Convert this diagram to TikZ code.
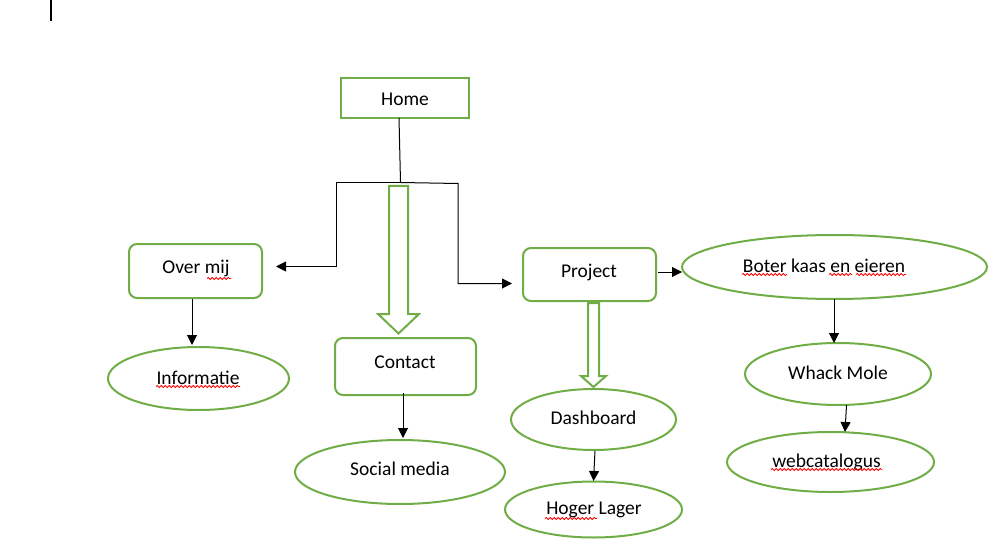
\documentclass[tikz,border=0pt]{standalone}
\usepackage{fontspec}
\setmainfont{Carlito}
\usetikzlibrary{arrows.meta,decorations.pathmorphing}
\definecolor{ogreen}{HTML}{70AD47}
\tikzset{
  box/.style={draw=ogreen, line width=2pt, rectangle, inner sep=0pt},
  rbox/.style={box, rounded corners=8pt},
  ell/.style={draw=ogreen, line width=2pt, ellipse, inner sep=0pt},
  lbl/.style={inner sep=0pt, font=\fontsize{19.5pt}{22pt}\selectfont},
  conn/.style={line width=1pt, black},
  arr/.style={conn, -{Triangle[length=10pt,width=10pt]}},
  blockarr/.style={draw=ogreen, line width=2pt, line join=miter},
  wavy/.style={red, line width=0.8pt, decorate, decoration={snake, amplitude=1pt, segment length=4pt}}
}
\usetikzlibrary{shapes.geometric}
\begin{document}
\begin{tikzpicture}[x=1pt,y=-1pt]
\useasboundingbox (0,0) rectangle (992,553);
% cursor mark
\draw[line width=1.2pt] (51,0) -- (51,21);

% boxes
\node[box, minimum width=128pt, minimum height=40pt] (home) at (405,98) {};
\node[lbl] (hometxt) at (405,99) {Home};
\node[rbox, minimum width=133pt, minimum height=54pt] (over) at (195.5,271) {};
\node[lbl] (overtxt) at (196,268) {Over mij};
\node[rbox, minimum width=141pt, minimum height=57pt] (contact) at (405.5,366.5) {};
\node[lbl] (contacttxt) at (405,362) {Contact};
\node[rbox, minimum width=133pt, minimum height=53pt] (project) at (589.5,274.5) {};
\node[lbl] (projecttxt) at (589,272) {Project};

% ellipses
\node[ell, minimum width=305pt, minimum height=64pt] (boter) at (834.5,267) {};
\node[lbl] (botertxt) at (824,266) {Boter kaas en eieren};
\node[ell, minimum width=181pt, minimum height=63pt] (info) at (198.5,378.5) {};
\node[lbl] (infotxt) at (198,378) {Informatie};
\node[ell, minimum width=210pt, minimum height=64pt] (social) at (400,472) {};
\node[lbl] (socialtxt) at (400,469) {Social media};
\node[ell, minimum width=165pt, minimum height=61pt] (dash) at (593.5,419.5) {};
\node[lbl] (dashtxt) at (593.5,418) {Dashboard};
\node[ell, minimum width=177pt, minimum height=56pt] (hoger) at (593.5,509.5) {};
\node[lbl] (hogertxt) at (594,510) {Hoger Lager};
\node[ell, minimum width=186pt, minimum height=62pt] (whack) at (838,374) {};
\node[lbl] (whacktxt) at (838,373) {Whack Mole};
\node[ell, minimum width=207pt, minimum height=60pt] (web) at (830.5,462) {};
\node[lbl] (webtxt) at (826.5,462) {webcatalogus};

% wavy underlines
\draw[wavy] (207,278.5) -- (231,278.5);
\draw[wavy] (156,386.5) -- (240,386.5);
\draw[wavy] (742,274.5) -- (787,274.5);
\draw[wavy] (829,274.5) -- (852,274.5);
\draw[wavy] (856,274.5) -- (906,274.5);
\draw[wavy] (771,469.5) -- (882,469.5);
\draw[wavy] (545,518.5) -- (597,518.5);

% Home branch connectors
\coordinate (hstart) at (399,118);
\coordinate (split) at (400.5,182.5);
\coordinate (overtip) at (276,266.5);
\coordinate (projtip) at (512,283.5);
\draw[conn] (hstart) -- (split);
\draw[arr] (split) -- (336,182.5) -- (336,266.5) -- (overtip);
\draw[arr] (split) -- (458,183.5) -- (458,283.5) -- (projtip);

% block arrows
\draw[blockarr] (389,186) -- (408,186) -- (408,314) -- (419,314) -- (398.5,333.5) -- (378,314) -- (389,314) -- cycle;
\draw[blockarr] (588,303) -- (599,303) -- (599,376) -- (606,376) -- (593.5,387) -- (581,376) -- (588,376) -- cycle;

% simple arrows
\draw[arr] (192,299) -- (192,345);
\draw[arr] (403,393) -- (403,438);
\draw[arr] (595,451) -- (593.5,481);
\draw[arr] (658,272) -- (682,272);
\draw[arr] (834,299) -- (834,343);
\draw[arr] (846.5,405) -- (845,432);
\end{tikzpicture}
\end{document}
